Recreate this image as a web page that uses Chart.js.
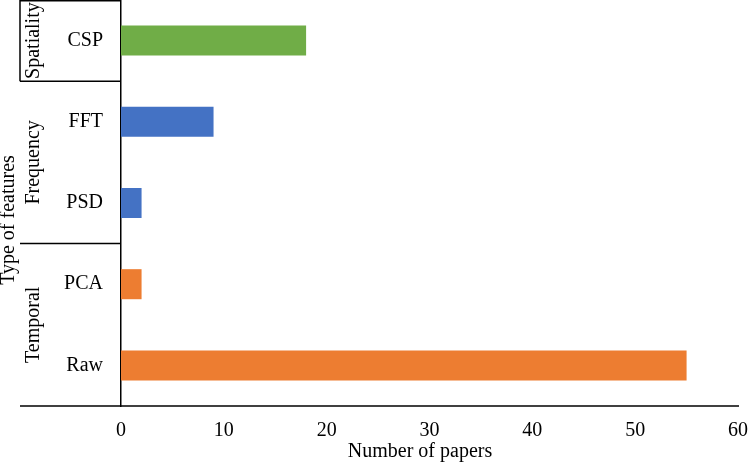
<!DOCTYPE html>
<html>
<head>
<meta charset="utf-8">
<script src="https://cdn.jsdelivr.net/npm/chart.js@4"></script>
<style>
  body { margin: 0; background: #fff; }
  #wrap { width: 750px; height: 465px; }
</style>
</head>
<body>
<div id="wrap"><canvas id="grafico" width="750" height="465"></canvas></div>
<script>
// dados do grafico
var categorias = ["CSP", "FFT", "PSD", "PCA", "Raw"];
var papers = [18, 9, 2, 2, 55];
var cores = ["#70AD47", "#4472C4", "#4472C4", "#ED7D31", "#ED7D31"];
var grupos = ["Spatiality", "Frequency", "Temporal"];
var tamanhoGrupos = [1, 2, 2];
var ticksX = [0, 10, 20, 30, 40, 50, 60];

var fonte = "'Liberation Serif', 'Times New Roman', serif";

// caixas dos grupos e titulos dos eixos
var gruposPlugin = {
  id: "grupos",
  afterDraw: function(chart) {
    var ctx = chart.ctx;
    var y = chart.scales.y;
    var area = chart.chartArea;
    var banda = (y.getPixelForValue(1) - y.getPixelForValue(0));
    var xEsq = 20;
    var xEixo = area.left;

    ctx.save();
    ctx.strokeStyle = "#000";
    ctx.lineWidth = 1.5;

    // linha de baixo, estendida
    ctx.beginPath();
    ctx.moveTo(xEsq, area.bottom);
    ctx.lineTo(area.right + 1, area.bottom);
    ctx.stroke();

    // linhas entre grupos
    var inicio = 0;
    var limites = [];
    for (var g = 0; g < grupos.length; g++) {
      var topo = y.getPixelForValue(inicio) - banda / 2;
      var fim = inicio + tamanhoGrupos[g] - 1;
      var base = y.getPixelForValue(fim) + banda / 2;
      limites.push([topo, base]);
      if (g < grupos.length - 1) {
        ctx.beginPath();
        ctx.moveTo(xEsq, base);
        ctx.lineTo(xEixo, base);
        ctx.stroke();
      }
      inicio = fim + 1;
    }
    // caixa do primeiro grupo
    ctx.beginPath();
    ctx.moveTo(xEixo, limites[0][0] + 0.75);
    ctx.lineTo(xEsq, limites[0][0] + 0.75);
    ctx.lineTo(xEsq, limites[0][1]);
    ctx.stroke();

    // nomes dos grupos
    ctx.fillStyle = "#000";
    ctx.font = "20px " + fonte;
    ctx.textAlign = "center";
    ctx.textBaseline = "middle";
    for (var k = 0; k < grupos.length; k++) {
      var meio = (limites[k][0] + limites[k][1]) / 2;
      ctx.save();
      ctx.translate(34, meio);
      ctx.rotate(-Math.PI / 2);
      ctx.fillText(grupos[k], 0, 0);
      ctx.restore();
    }

    // titulo do eixo y
    ctx.save();
    ctx.translate(9, 220);
    ctx.rotate(-Math.PI / 2);
    ctx.fillText("Type of features", 0, 0);
    ctx.restore();

    // titulo do eixo x
    ctx.fillText("Number of papers", 420, 452);

    ctx.restore();
  }
};

var contexto = document.getElementById("grafico").getContext("2d");
var grafico = new Chart(contexto, {
  type: "bar",
  data: {
    labels: categorias,
    datasets: [{
      label: "Number of papers",
      data: papers,
      backgroundColor: cores,
      borderWidth: 0,
      categoryPercentage: 1,
      barPercentage: 0.37
    }]
  },
  options: {
    indexAxis: "y",
    responsive: false,
    animation: false,
    layout: { padding: { top: 0, right: 12, left: 0, bottom: 0 } },
    plugins: {
      legend: { display: false },
      tooltip: { enabled: false }
    },
    scales: {
      x: {
        min: 0,
        max: 60,
        afterBuildTicks: function(scale) {
          scale.ticks = ticksX.map(function(v) { return { value: v }; });
        },
        afterFit: function(scale) {
          scale.height = 59;
          scale.paddingLeft = 0;
          scale.paddingRight = 0;
        },
        grid: { display: false, drawTicks: false },
        border: { display: false },
        ticks: {
          color: "#000",
          padding: 13,
          font: { family: fonte, size: 20 }
        }
      },
      y: {
        afterFit: function(scale) {
          scale.width = 121;
          scale.paddingTop = 0;
          scale.paddingBottom = 0;
        },
        grid: { display: false, drawTicks: false },
        border: { display: true, color: "#000", width: 1.5 },
        ticks: {
          color: "#000",
          padding: 18,
          font: { family: fonte, size: 20 }
        }
      }
    }
  },
  plugins: [gruposPlugin]
});
</script>
</body>
</html>
